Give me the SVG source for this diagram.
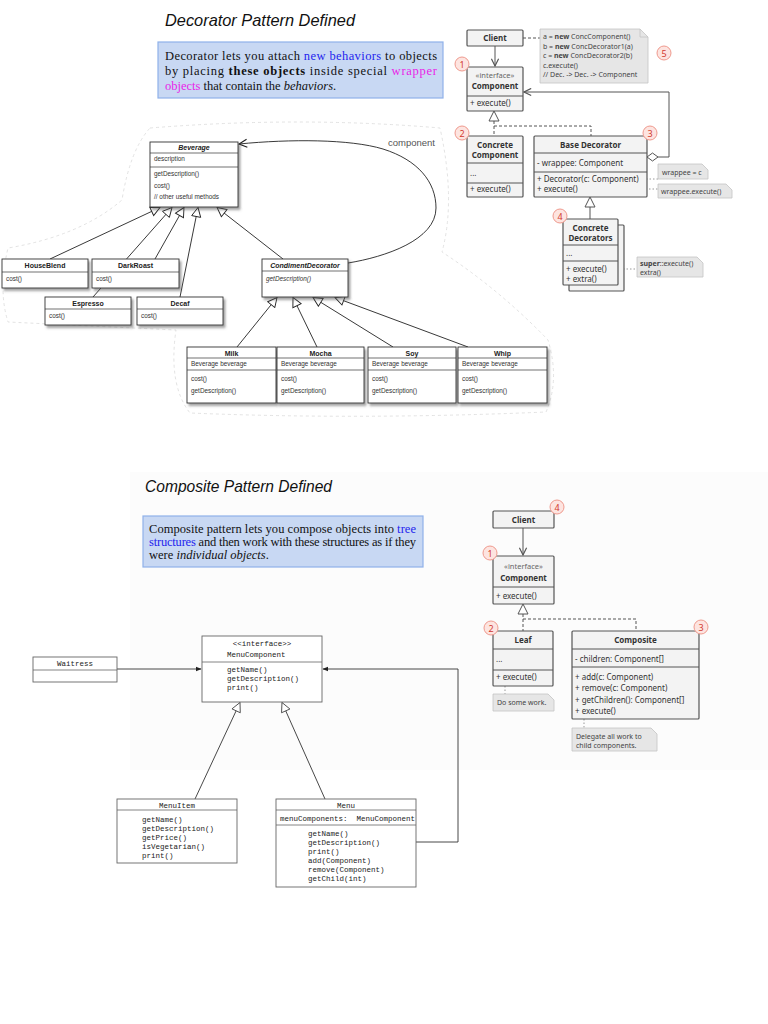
<svg xmlns="http://www.w3.org/2000/svg" width="768" height="1024" viewBox="0 0 768 1024">
<style>
.title{font-family:"Liberation Sans",sans-serif;font-style:italic;font-size:17px;fill:#111}
.desc{font-family:"Liberation Serif",serif;font-size:12.5px;fill:#111}
.dbox{fill:#c8d8f3;stroke:#8fb1ea;stroke-width:1.2}
.g{font-family:"Noto Sans","Open Sans",sans-serif;font-size:8px;fill:#333}
.gb{font-family:"Noto Sans","Open Sans",sans-serif;font-size:8px;font-weight:bold;fill:#333}
.gi{font-family:"Noto Sans","Open Sans",sans-serif;font-size:7.5px;fill:#666}
.gn{font-family:"Noto Sans","Open Sans",sans-serif;font-size:7px;fill:#444}
.gbox{fill:#f3f3f3;stroke:#555;stroke-width:1.2}
.gln{stroke:#555;stroke-width:1}
.note{fill:#e6e6e6;stroke:#c4c4c4;stroke-width:0.8}
.dash{fill:none;stroke:#555;stroke-width:1;stroke-dasharray:3,2}
.dot{fill:none;stroke:#999;stroke-width:1;stroke-dasharray:1.5,2}
.num circle{fill:#fde4e0;stroke:#ef9a8e;stroke-width:1}
.num text{font-family:"Noto Sans",sans-serif;font-size:9px;fill:#d23a2e;text-anchor:middle}
.bbox{fill:#fff;stroke:#333;stroke-width:0.9;filter:url(#sh)}
.bl{stroke:#333;stroke-width:0.7}
.bh{font-family:"Liberation Sans",sans-serif;font-size:7px;font-weight:bold;fill:#222;text-anchor:middle}
.bt{font-family:"Liberation Sans",sans-serif;font-size:6.4px;fill:#333}
.blink{stroke:#222;stroke-width:0.9;fill:none}
.m{font-family:"Liberation Mono",monospace;font-size:7.5px;fill:#222}
.mbox{fill:#fff;stroke:#666;stroke-width:0.9}
.mln{stroke:#666;stroke-width:0.8}
.mlink{stroke:#333;stroke-width:0.9;fill:none}
</style>
<defs>
<filter id="sh" x="-10%" y="-10%" width="130%" height="140%">
<feDropShadow dx="2" dy="2.5" stdDeviation="1.2" flood-color="#555" flood-opacity="0.55"/>
</filter>
<marker id="openG" viewBox="0 0 10 10" refX="9" refY="5" markerWidth="9" markerHeight="9" markerUnits="userSpaceOnUse" orient="auto"><path d="M1,1 L9,5 L1,9" fill="none" stroke="#555" stroke-width="1.3"/></marker>
<marker id="openB" viewBox="0 0 10 10" refX="9" refY="5" markerWidth="10" markerHeight="10" markerUnits="userSpaceOnUse" orient="auto"><path d="M1,1 L9,5 L1,9" fill="none" stroke="#222" stroke-width="1.2"/></marker>
<marker id="triB" viewBox="0 0 12 12" refX="11" refY="6" markerWidth="11" markerHeight="11" markerUnits="userSpaceOnUse" orient="auto"><path d="M1,1 L11,6 L1,11 Z" fill="#fff" stroke="#222" stroke-width="1"/></marker>
<marker id="triM" viewBox="0 0 12 12" refX="11" refY="6" markerWidth="11" markerHeight="11" markerUnits="userSpaceOnUse" orient="auto"><path d="M1,1 L11,6 L1,11 Z" fill="#fff" stroke="#444" stroke-width="0.9"/></marker>
<marker id="fillM" viewBox="0 0 10 10" refX="9" refY="5" markerWidth="6" markerHeight="6" markerUnits="userSpaceOnUse" orient="auto"><path d="M0,1 L10,5 L0,9 Z" fill="#222"/></marker>
</defs>
<rect width="768" height="1024" fill="#fff"/>
<rect x="130" y="472" width="638" height="298" fill="#fcfcfc"/>

<!-- ===== Decorator header ===== -->
<g id="decorator-title">
<text class="title" x="165" y="26" textLength="190" lengthAdjust="spacingAndGlyphs">Decorator Pattern Defined</text>
</g>
<g id="decorator-desc">
<rect class="dbox" x="158" y="42" width="285" height="56"/>
<text class="desc" x="165" y="60" textLength="272" lengthAdjust="spacing">Decorator lets you attach <tspan fill="#1f1fee">new behaviors</tspan> to objects</text>
<text class="desc" x="165" y="75" textLength="272" lengthAdjust="spacing">by placing <tspan font-weight="bold">these objects</tspan> inside special <tspan fill="#e81ee8">wrapper</tspan></text>
<text class="desc" x="165" y="90"><tspan fill="#e81ee8">objects</tspan> that contain the <tspan font-style="italic">behaviors</tspan>.</text>
</g>

<!-- ===== Decorator UML (right) ===== -->
<g id="dec-connectors">
<line class="gln" x1="495" y1="46" x2="495" y2="66" marker-end="url(#openG)"/>
<path class="dash" d="M523,38 H540" stroke="#aaa"/>
<path class="dash" d="M494,121 V136 M494,126 H591 V136"/>
<path class="gln" fill="none" d="M658,157 H669 V92 H524" marker-end="url(#openG)"/>
<polygon points="647,157 652.5,153 658,157 652.5,161" fill="#fff" stroke="#555" stroke-width="1"/>
<polygon points="494,111 489,121 499,121" fill="#fff" stroke="#555" stroke-width="1"/>
<line class="gln" x1="590" y1="207" x2="590" y2="219"/>
<polygon points="590,197 585,207 595,207" fill="#fff" stroke="#555" stroke-width="1"/>
<path class="dot" d="M646,179 H658"/><circle cx="644.5" cy="179" r="1.6" fill="#fff" stroke="#999" stroke-width="0.8"/>
<path class="dot" d="M586,189 H658"/><circle cx="584.5" cy="189" r="1.6" fill="#fff" stroke="#999" stroke-width="0.8"/>
<path class="dot" d="M616,269 H637"/><circle cx="614.5" cy="269" r="1.6" fill="#fff" stroke="#999" stroke-width="0.8"/>
</g>
<g id="dec-client">
<rect class="gbox" x="467" y="30" width="56" height="16" rx="1"/>
<text class="gb" x="495" y="41" text-anchor="middle">Client</text>
</g>
<g id="dec-note-code">
<path class="note" d="M540,29 H640 L648,37 V83 H540 Z"/>
<path d="M640,29 V37 H648" fill="none" stroke="#c4c4c4" stroke-width="0.8"/>
<text class="gn" x="543" y="39">a = <tspan font-weight="bold">new</tspan> ConcComponent()</text>
<text class="gn" x="543" y="49">b = <tspan font-weight="bold">new</tspan> ConcDecorator1(a)</text>
<text class="gn" x="543" y="58">c = <tspan font-weight="bold">new</tspan> ConcDecorator2(b)</text>
<text class="gn" x="543" y="68">c.execute()</text>
<text class="gn" x="543" y="77" fill="#999">// Dec. -&gt; Dec. -&gt; Component</text>
</g>
<g id="dec-component">
<rect class="gbox" x="467" y="67" width="56" height="44" rx="1"/>
<text class="gi" x="495" y="78" text-anchor="middle">«interface»</text>
<text class="gb" x="495" y="89" text-anchor="middle">Component</text>
<line class="gln" x1="467" y1="96" x2="523" y2="96"/>
<text class="g" x="470" y="106">+ execute()</text>
</g>
<g id="dec-concrete-component">
<rect class="gbox" x="467" y="136" width="56" height="61" rx="1"/>
<text class="gb" x="495" y="148" text-anchor="middle">Concrete</text>
<text class="gb" x="495" y="158" text-anchor="middle">Component</text>
<line class="gln" x1="467" y1="163" x2="523" y2="163"/>
<text class="g" x="470" y="176">...</text>
<line class="gln" x1="467" y1="183" x2="523" y2="183"/>
<text class="g" x="470" y="192">+ execute()</text>
</g>
<g id="dec-base-decorator">
<rect class="gbox" x="534" y="136" width="113" height="61" rx="1"/>
<text class="gb" x="590.5" y="148" text-anchor="middle">Base Decorator</text>
<line class="gln" x1="534" y1="153" x2="647" y2="153"/>
<text class="g" x="537" y="166">- wrappee: Component</text>
<line class="gln" x1="534" y1="172" x2="647" y2="172"/>
<text class="g" x="537" y="182">+ Decorator(c: Component)</text>
<text class="g" x="537" y="192">+ execute()</text>
</g>
<g id="dec-note-wrappee">
<path class="note" d="M658,164 H702 L708,170 V179 H658 Z"/>
<text class="gn" x="662" y="174.5">wrappee = c</text>
</g>
<g id="dec-note-execute">
<path class="note" d="M658,184 H726 L732,190 V198 H658 Z"/>
<text class="gn" x="661" y="194">wrappee.execute()</text>
</g>
<g id="dec-concrete-decorators">
<rect class="gbox" x="569" y="225" width="55" height="66" rx="1"/>
<rect class="gbox" x="563" y="219" width="55" height="66" rx="1"/>
<text class="gb" x="590.5" y="231" text-anchor="middle">Concrete</text>
<text class="gb" x="590.5" y="241" text-anchor="middle">Decorators</text>
<line class="gln" x1="563" y1="245" x2="618" y2="245"/>
<text class="g" x="566" y="256">...</text>
<line class="gln" x1="563" y1="261" x2="618" y2="261"/>
<text class="g" x="566" y="272">+ execute()</text>
<text class="g" x="566" y="282">+ extra()</text>
</g>
<g id="dec-note-super">
<path class="note" d="M637,257 H697 L703,263 V277 H637 Z"/>
<text class="gn" x="640" y="266"><tspan font-weight="bold">super</tspan>::execute()</text>
<text class="gn" x="640" y="275">extra()</text>
</g>
<g id="dec-numbers" class="num">
<circle cx="462" cy="64" r="7"/><text x="462" y="67.5">1</text>
<circle cx="462" cy="133" r="7"/><text x="462" y="136.5">2</text>
<circle cx="650" cy="133" r="7"/><text x="650" y="136.5">3</text>
<circle cx="560" cy="216" r="7"/><text x="560" y="219.5">4</text>
<circle cx="664" cy="53" r="7"/><text x="664" y="56.5">5</text>
</g>

<!-- ===== Beverage diagram ===== -->
<path d="M150,128 Q300,116 440,128 Q456,200 442,252 Q500,290 548,340 Q560,380 546,412 Q360,420 190,413 Q168,385 176,330 Q90,326 8,322 Q-2,290 8,248 Q80,236 122,200 Q130,150 150,128 Z" fill="none" stroke="#dadada" stroke-width="0.8" stroke-dasharray="3,3"/>
<g id="bev-connectors">
<line class="blink" x1="50" y1="259" x2="160" y2="207.5" marker-end="url(#triB)"/>
<line class="blink" x1="93" y1="297" x2="172" y2="207.5" marker-end="url(#triB)"/>
<line class="blink" x1="155" y1="259" x2="184" y2="207.5" marker-end="url(#triB)"/>
<line class="blink" x1="180" y1="297" x2="198" y2="207.5" marker-end="url(#triB)"/>
<line class="blink" x1="283" y1="259" x2="217" y2="207.5" marker-end="url(#triB)"/>
<line class="blink" x1="237" y1="347" x2="277" y2="297.5" marker-end="url(#triB)"/>
<line class="blink" x1="317" y1="347" x2="293" y2="297.5" marker-end="url(#triB)"/>
<line class="blink" x1="393" y1="347" x2="313" y2="297.5" marker-end="url(#triB)"/>
<line class="blink" x1="468" y1="347" x2="335" y2="297.5" marker-end="url(#triB)"/>
<path class="blink" d="M348,263 C385,257 436,240 436,208 C436,182 418,160 383,149 C350,139 290,139 239,144" marker-end="url(#openB)"/>
<text x="388" y="146" font-family="'Liberation Sans',sans-serif" font-size="9.5" fill="#555">component</text>
</g>
<g id="bev-beverage">
<rect class="bbox" x="150" y="142" width="88" height="65"/>
<text class="bh" x="194" y="150" font-style="italic">Beverage</text>
<line class="bl" x1="150" y1="153" x2="238" y2="153"/>
<text class="bt" x="154" y="161">description</text>
<line class="bl" x1="150" y1="167" x2="238" y2="167"/>
<text class="bt" x="154" y="176">getDescription()</text>
<text class="bt" x="154" y="188">cost()</text>
<text class="bt" x="154" y="199">// other useful methods</text>
</g>
<g id="bev-houseblend">
<rect class="bbox" x="2" y="259" width="86" height="29"/>
<text class="bh" x="45" y="268">HouseBlend</text>
<line class="bl" x1="2" y1="272" x2="88" y2="272"/>
<text class="bt" x="6" y="281">cost()</text>
</g>
<g id="bev-darkroast">
<rect class="bbox" x="92" y="259" width="87" height="29"/>
<text class="bh" x="135.5" y="268">DarkRoast</text>
<line class="bl" x1="92" y1="272" x2="179" y2="272"/>
<text class="bt" x="96" y="281">cost()</text>
</g>
<g id="bev-espresso">
<rect class="bbox" x="45" y="297" width="86" height="28"/>
<text class="bh" x="88" y="306">Espresso</text>
<line class="bl" x1="45" y1="309" x2="131" y2="309"/>
<text class="bt" x="49" y="318">cost()</text>
</g>
<g id="bev-decaf">
<rect class="bbox" x="137" y="297" width="86" height="28"/>
<text class="bh" x="180" y="306">Decaf</text>
<line class="bl" x1="137" y1="309" x2="223" y2="309"/>
<text class="bt" x="141" y="318">cost()</text>
</g>
<g id="bev-condiment">
<rect class="bbox" x="262" y="259" width="86" height="38"/>
<text class="bh" x="305" y="268" font-style="italic">CondimentDecorator</text>
<line class="bl" x1="262" y1="271" x2="348" y2="271"/>
<text class="bt" x="266" y="281" font-style="italic">getDescription()</text>
</g>
<g id="bev-milk">
<rect class="bbox" x="187" y="347" width="89" height="56"/>
<text class="bh" x="231.5" y="356">Milk</text>
<line class="bl" x1="187" y1="358" x2="276" y2="358"/>
<text class="bt" x="191" y="366">Beverage beverage</text>
<line class="bl" x1="187" y1="370" x2="276" y2="370"/>
<text class="bt" x="191" y="381">cost()</text>
<text class="bt" x="191" y="393">getDescription()</text>
</g>
<g id="bev-mocha">
<rect class="bbox" x="277" y="347" width="87" height="56"/>
<text class="bh" x="320.5" y="356">Mocha</text>
<line class="bl" x1="277" y1="358" x2="364" y2="358"/>
<text class="bt" x="281" y="366">Beverage beverage</text>
<line class="bl" x1="277" y1="370" x2="364" y2="370"/>
<text class="bt" x="281" y="381">cost()</text>
<text class="bt" x="281" y="393">getDescription()</text>
</g>
<g id="bev-soy">
<rect class="bbox" x="368" y="347" width="88" height="56"/>
<text class="bh" x="412" y="356">Soy</text>
<line class="bl" x1="368" y1="358" x2="456" y2="358"/>
<text class="bt" x="372" y="366">Beverage beverage</text>
<line class="bl" x1="368" y1="370" x2="456" y2="370"/>
<text class="bt" x="372" y="381">cost()</text>
<text class="bt" x="372" y="393">getDescription()</text>
</g>
<g id="bev-whip">
<rect class="bbox" x="458" y="347" width="89" height="56"/>
<text class="bh" x="502.5" y="356">Whip</text>
<line class="bl" x1="458" y1="358" x2="547" y2="358"/>
<text class="bt" x="462" y="366">Beverage beverage</text>
<line class="bl" x1="458" y1="370" x2="547" y2="370"/>
<text class="bt" x="462" y="381">cost()</text>
<text class="bt" x="462" y="393">getDescription()</text>
</g>

<!-- ===== Composite header ===== -->
<g id="composite-title">
<text class="title" x="145" y="492" textLength="187" lengthAdjust="spacingAndGlyphs">Composite Pattern Defined</text>
</g>
<g id="composite-desc">
<rect class="dbox" x="143" y="516" width="280" height="51"/>
<text class="desc" x="149" y="533" textLength="267" lengthAdjust="spacing">Composite pattern lets you compose objects into <tspan fill="#1f1fee">tree</tspan></text>
<text class="desc" x="149" y="546" textLength="267" lengthAdjust="spacing"><tspan fill="#1f1fee">structures</tspan> and then work with these structures as if they</text>
<text class="desc" x="149" y="559">were <tspan font-style="italic">individual objects</tspan>.</text>
</g>

<!-- ===== Composite UML (right) ===== -->
<g id="comp-connectors">
<line class="gln" x1="523" y1="528" x2="523" y2="555" marker-end="url(#openG)"/>
<path class="dash" d="M523,614 V631 M523,619 H636 V631"/>
<polygon points="523,604 518,614 528,614" fill="#fff" stroke="#555" stroke-width="1"/>
<path class="dot" d="M505,686 V694"/>
<path class="dot" d="M584,719 V728"/>
</g>
<g id="comp-client">
<rect class="gbox" x="493" y="511" width="61" height="17" rx="1"/>
<text class="gb" x="523.5" y="523" text-anchor="middle">Client</text>
</g>
<g id="comp-component">
<rect class="gbox" x="493" y="556" width="61" height="48" rx="1"/>
<text class="gi" x="523.5" y="569" text-anchor="middle">«interface»</text>
<text class="gb" x="523.5" y="581" text-anchor="middle">Component</text>
<line class="gln" x1="493" y1="587" x2="554" y2="587"/>
<text class="g" x="496" y="599">+ execute()</text>
</g>
<g id="comp-leaf">
<rect class="gbox" x="493" y="631" width="60" height="55" rx="1"/>
<text class="gb" x="523" y="643" text-anchor="middle">Leaf</text>
<line class="gln" x1="493" y1="649" x2="553" y2="649"/>
<text class="g" x="496" y="662" fill="#888">...</text>
<line class="gln" x1="493" y1="670" x2="553" y2="670"/>
<text class="g" x="496" y="680">+ execute()</text>
</g>
<g id="comp-note-leaf">
<path class="note" d="M493,694 H548 L554,700 V711 H493 Z"/>
<text class="gn" x="497" y="705">Do some work.</text>
</g>
<g id="comp-composite">
<rect class="gbox" x="572" y="631" width="127" height="88" rx="1"/>
<text class="gb" x="635.5" y="643" text-anchor="middle">Composite</text>
<line class="gln" x1="572" y1="649" x2="699" y2="649"/>
<text class="g" x="575" y="662">- children: Component[]</text>
<line class="gln" x1="572" y1="667" x2="699" y2="667"/>
<text class="g" x="575" y="680">+ add(c: Component)</text>
<text class="g" x="575" y="691">+ remove(c: Component)</text>
<text class="g" x="575" y="703">+ getChildren(): Component[]</text>
<text class="g" x="575" y="714">+ execute()</text>
</g>
<g id="comp-note-composite">
<path class="note" d="M572,728 H651 L657,734 V751 H572 Z"/>
<text class="gn" x="576" y="739">Delegate all work to</text>
<text class="gn" x="576" y="748">child components.</text>
</g>
<g id="comp-numbers" class="num">
<circle cx="490" cy="553" r="7"/><text x="490" y="556.5">1</text>
<circle cx="491" cy="628" r="7"/><text x="491" y="631.5">2</text>
<circle cx="701" cy="627" r="7"/><text x="701" y="630.5">3</text>
<circle cx="557" cy="507" r="7"/><text x="557" y="510.5">4</text>
</g>

<!-- ===== Menu diagram ===== -->
<g id="menu-connectors">
<line class="mlink" x1="117" y1="669" x2="201" y2="669" marker-end="url(#fillM)"/>
<path class="mlink" d="M416,842 H458 V669 H323" marker-end="url(#fillM)"/>
<line class="mlink" x1="195" y1="799" x2="240" y2="702.5" marker-end="url(#triM)"/>
<line class="mlink" x1="325" y1="799" x2="282" y2="702.5" marker-end="url(#triM)"/>
</g>
<g id="menu-waitress">
<rect class="mbox" x="33" y="657" width="84" height="25"/>
<text class="m" x="75" y="666" text-anchor="middle">Waitress</text>
<line class="mln" x1="33" y1="670" x2="117" y2="670"/>
</g>
<g id="menu-component">
<rect class="mbox" x="202" y="636" width="120" height="66"/>
<text class="m" x="262" y="646" text-anchor="middle">&lt;&lt;interface&gt;&gt;</text>
<text class="m" x="227" y="657">MenuComponent</text>
<line class="mln" x1="202" y1="662" x2="322" y2="662"/>
<text class="m" x="227" y="672">getName()</text>
<text class="m" x="227" y="681">getDescription()</text>
<text class="m" x="227" y="690">print()</text>
</g>
<g id="menu-item">
<rect class="mbox" x="117" y="799" width="120" height="64"/>
<text class="m" x="177" y="808" text-anchor="middle">MenuItem</text>
<line class="mln" x1="117" y1="810" x2="237" y2="810"/>
<text class="m" x="142" y="822">getName()</text>
<text class="m" x="142" y="831">getDescription()</text>
<text class="m" x="142" y="840">getPrice()</text>
<text class="m" x="142" y="849">isVegetarian()</text>
<text class="m" x="142" y="858">print()</text>
</g>
<g id="menu-menu">
<rect class="mbox" x="276" y="799" width="140" height="88"/>
<text class="m" x="346" y="808" text-anchor="middle">Menu</text>
<line class="mln" x1="276" y1="810" x2="416" y2="810"/>
<text class="m" x="280" y="821" xml:space="preserve">menuComponents:  MenuComponent</text>
<line class="mln" x1="276" y1="825" x2="416" y2="825"/>
<text class="m" x="308" y="836">getName()</text>
<text class="m" x="308" y="845">getDescription()</text>
<text class="m" x="308" y="854">print()</text>
<text class="m" x="308" y="863">add(Component)</text>
<text class="m" x="308" y="872">remove(Component)</text>
<text class="m" x="308" y="881">getChild(int)</text>
</g>
</svg>
